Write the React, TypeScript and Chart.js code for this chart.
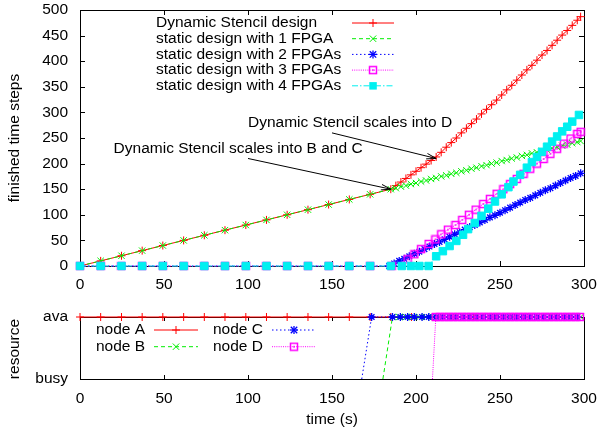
import React, { useEffect, useRef } from 'react';
import { Chart, registerables } from 'chart.js';

Chart.register(...registerables);

const FONT = '"Liberation Sans", Arial, Helvetica, sans-serif';
const FSIZE = 15.5;

// ---------- top panel data ----------
const seriesNames = [
  'Dynamic Stencil design',
  'static design with 1 FPGA',
  'static design with 2 FPGAs',
  'static design with 3 FPGAs',
  'static design with 4 FPGAs',
];

const dynTimes = [0, 12.3, 24.7, 37, 49.3, 61.7, 74, 86.3, 98.7, 111, 123.3, 135.7, 148, 160.3, 172.7, 185, 188, 191, 194, 197, 200, 203, 206, 209, 212, 215, 218, 221, 224, 227, 230, 233, 236, 239, 242, 245, 248, 251, 254, 257, 260, 263, 266, 269, 272, 275, 278, 281, 284, 287, 290, 293, 296, 298];
const dynSteps = [0, 10, 20, 30, 40, 50, 60, 70, 80, 90, 100, 110, 120, 130, 140, 150, 157, 164, 171, 178, 185, 192, 199, 206, 213, 222, 232, 241, 250, 260, 269, 278, 287, 297, 306, 315, 324, 334, 344, 353, 363, 373, 383, 392, 402, 412, 421, 431, 441, 451, 460, 470, 480, 487];

const fpga1Times = [0, 12.3, 24.7, 37, 49.3, 61.7, 74, 86.3, 98.7, 111, 123.3, 135.7, 148, 160.3, 172.7, 185, 188, 191, 194, 197, 200, 203, 206, 209, 212, 215, 218, 221, 224, 227, 230, 233, 236, 239, 242, 245, 248, 251, 254, 257, 260, 263, 266, 269, 272, 275, 278, 281, 284, 287, 290, 293, 296, 298];
const fpga1Steps = [0, 10, 20, 30, 40, 50, 60, 70, 80, 90, 100, 110, 120, 130, 140, 150, 152, 155, 157, 160, 162, 165, 167, 170, 172, 175, 177, 180, 182, 185, 187, 190, 192, 195, 197, 200, 202, 205, 207, 210, 212, 215, 217, 220, 222, 225, 227, 230, 232, 235, 237, 240, 242, 244];

const fpga2Times = [0, 12.3, 24.7, 37, 49.3, 61.7, 74, 86.3, 98.7, 111, 123.3, 135.7, 148, 160.3, 172.7, 184, 187, 190, 193, 196, 199, 202, 205, 208, 211, 214, 217, 220, 223, 226, 229, 232, 235, 238, 241, 244, 247, 250, 253, 256, 259, 262, 265, 268, 271, 274, 277, 280, 283, 286, 289, 292, 295, 298];
const fpga2Steps = [0, 0, 0, 0, 0, 0, 0, 0, 0, 0, 0, 0, 0, 0, 0, 0, 5, 10, 14, 19, 24, 28, 33, 38, 43, 47, 52, 57, 62, 66, 71, 76, 80, 85, 90, 95, 99, 104, 109, 114, 119, 124, 129, 133, 138, 143, 148, 152, 157, 162, 167, 172, 176, 181];

const fpga3Times = [0, 12.3, 24.7, 37, 49.3, 61.7, 74, 86.3, 98.7, 111, 123.3, 135.7, 148, 160.3, 172.7, 185.5, 195, 199, 203, 207.5, 211.5, 215, 219, 223.5, 227.5, 231.5, 235.5, 240, 244, 248, 252, 256, 260, 264, 268, 272, 276, 280, 284, 288, 292, 296, 298];
const fpga3Steps = [0, 0, 0, 0, 0, 0, 0, 0, 0, 0, 0, 0, 0, 0, 0, 0, 13, 23, 33, 43, 52, 62, 71, 80, 90, 100, 110, 121, 131, 141, 150, 160, 170, 180, 190, 200, 209, 219, 229, 239, 249, 258, 262];

const fpga4Times = [0, 12.3, 24.7, 37, 49.3, 61.7, 74, 86.3, 98.7, 111, 123.3, 135.7, 148, 160.3, 172.7, 185, 191.5, 197, 202, 207.5, 212, 216, 220, 224, 228, 231, 235, 239, 243, 247, 251, 255, 258, 262, 266, 269, 272, 275, 278, 281, 284, 287, 290, 293, 297];
const fpga4Steps = [0, 0, 0, 0, 0, 0, 0, 0, 0, 0, 0, 0, 0, 0, 0, 0, 0, 0, 0, 0, 19, 29, 39, 49, 61, 72, 84, 98, 112, 126, 140, 154, 165, 178, 192, 203, 213, 223, 233, 243, 253, 263, 272, 282, 295];

const annotationTexts = ['Dynamic Stencil scales into D', 'Dynamic Stencil scales into B and C'];
const annotationAt = [[100, 280], [20, 230]];
const arrowFrom = [[150, 260], [100, 210]];
const arrowTo = [[212, 210], [185, 150]];

// ---------- bottom panel data ----------
const nodeNames = ['node A', 'node B', 'node C', 'node D'];
const statusLabels = ['busy', 'ava'];

const nodeATimes = [0, 12.3, 24.7, 37, 49.3, 61.7, 74, 86.3, 98.7, 111, 123.3, 135.7, 148, 160.3, 172.7, 185, 197.3, 209.7, 222, 234.3, 246.7, 259, 271.3, 283.7, 296];
const nodeAStatus = ['ava', 'ava', 'ava', 'ava', 'ava', 'ava', 'ava', 'ava', 'ava', 'ava', 'ava', 'ava', 'ava', 'ava', 'ava', 'ava', 'ava', 'ava', 'ava', 'ava', 'ava', 'ava', 'ava', 'ava', 'ava'];

const nodeBTimes = [180.3, 186, 190, 194, 198, 202, 206, 210, 214, 218, 222, 226, 230, 234, 238, 242, 246, 250, 254, 258, 262, 266, 270, 274, 278, 282, 286, 290, 294, 298];
const nodeBStatus = ['busy', 'ava', 'ava', 'ava', 'ava', 'ava', 'ava', 'ava', 'ava', 'ava', 'ava', 'ava', 'ava', 'ava', 'ava', 'ava', 'ava', 'ava', 'ava', 'ava', 'ava', 'ava', 'ava', 'ava', 'ava', 'ava', 'ava', 'ava', 'ava', 'ava'];

const nodeCTimes = [167.7, 173.6, 186, 190.7, 195, 199, 203.6, 207.6, 212, 216, 220, 224, 228, 232, 236, 240, 244, 248, 252, 256, 260, 264, 268, 272, 276, 280, 284, 288, 292, 296];
const nodeCStatus = ['busy', 'ava', 'ava', 'ava', 'ava', 'ava', 'ava', 'ava', 'ava', 'ava', 'ava', 'ava', 'ava', 'ava', 'ava', 'ava', 'ava', 'ava', 'ava', 'ava', 'ava', 'ava', 'ava', 'ava', 'ava', 'ava', 'ava', 'ava', 'ava', 'ava'];

const nodeDTimes = [209.8, 211.8, 214.4, 217, 219.6, 222.2, 224.8, 227.4, 230, 232.6, 235.2, 237.8, 240.4, 243, 245.6, 248.2, 250.8, 253.4, 256, 258.6, 261.2, 263.8, 266.4, 269, 271.6, 274.2, 276.8, 279.4, 282, 284.6, 287.2, 289.8, 292.4, 295, 297.6];
const nodeDStatus = ['busy', 'ava', 'ava', 'ava', 'ava', 'ava', 'ava', 'ava', 'ava', 'ava', 'ava', 'ava', 'ava', 'ava', 'ava', 'ava', 'ava', 'ava', 'ava', 'ava', 'ava', 'ava', 'ava', 'ava', 'ava', 'ava', 'ava', 'ava', 'ava', 'ava', 'ava', 'ava', 'ava', 'ava', 'ava'];

// ---------- styles ----------
type MarkerKind = 'plus' | 'x' | 'star' | 'box' | 'fbox';
interface SStyle { color: string; dash: number[]; marker: MarkerKind; }

const styles: SStyle[] = [
  { color: '#ff0000', dash: [], marker: 'plus' },
  { color: '#00ee00', dash: [4, 3], marker: 'x' },
  { color: '#0000ff', dash: [1.5, 2.5], marker: 'star' },
  { color: '#ff00ff', dash: [1, 1.2], marker: 'box' },
  { color: '#00f0f0', dash: [6, 2, 1.5, 2], marker: 'fbox' },
];

function makeBoxImage(color: string): HTMLCanvasElement {
  const c = document.createElement('canvas');
  c.width = 10; c.height = 10;
  const g = c.getContext('2d')!;
  g.strokeStyle = color;
  g.lineWidth = 1.5;
  g.strokeRect(1.5, 1.5, 7, 7);
  g.fillStyle = color;
  g.fillRect(4.2, 4.2, 1.6, 1.6);
  return c;
}
const boxImg = makeBoxImage('#ff00ff');

function pointOpts(s: SStyle) {
  switch (s.marker) {
    case 'plus': return { pointStyle: 'cross', pointRadius: 4, pointBorderWidth: 1 };
    case 'x': return { pointStyle: 'crossRot', pointRadius: 4.5, pointBorderWidth: 1 };
    case 'star': return { pointStyle: 'star', pointRadius: 4, pointBorderWidth: 1.3 };
    case 'box': return { pointStyle: boxImg, pointRadius: 5, pointBorderWidth: 1 };
    case 'fbox': return { pointStyle: 'rect', pointRadius: 5.3, pointBorderWidth: 1 };
  }
}

function drawMarker(ctx: CanvasRenderingContext2D, s: SStyle, x: number, y: number) {
  ctx.save();
  ctx.setLineDash([]);
  ctx.strokeStyle = s.color;
  ctx.fillStyle = s.color;
  ctx.lineWidth = s.marker === 'star' ? 1.3 : 1;
  const seg = (a: number, b: number, c: number, d: number) => { ctx.beginPath(); ctx.moveTo(a, b); ctx.lineTo(c, d); ctx.stroke(); };
  if (s.marker === 'plus' || s.marker === 'star') { seg(x - 4, y, x + 4, y); seg(x, y - 4, x, y + 4); }
  if (s.marker === 'x' || s.marker === 'star') { const r = 3.2; seg(x - r, y - r, x + r, y + r); seg(x - r, y + r, x + r, y - r); }
  if (s.marker === 'box') ctx.drawImage(boxImg, x - 5, y - 5);
  if (s.marker === 'fbox') ctx.fillRect(x - 3.7, y - 3.7, 7.5, 7.5);
  ctx.restore();
}

function legendSample(ctx: CanvasRenderingContext2D, s: SStyle, x1: number, x2: number, y: number) {
  ctx.save();
  ctx.strokeStyle = s.color;
  ctx.lineWidth = 1;
  ctx.setLineDash(s.dash);
  ctx.beginPath(); ctx.moveTo(x1, y); ctx.lineTo(x2, y); ctx.stroke();
  ctx.restore();
  drawMarker(ctx, s, (x1 + x2) / 2, y);
}

function frameAndTicks(chart: any, tick: number) {
  const { ctx, chartArea } = chart;
  const { left, right, top, bottom } = chartArea;
  ctx.save();
  ctx.strokeStyle = '#000';
  ctx.lineWidth = 1;
  ctx.setLineDash([]);
  ctx.strokeRect(left + 0.5, top + 0.5, right - left, bottom - top);
  const xs = chart.scales.x, ys = chart.scales.y;
  ctx.beginPath();
  xs.ticks.forEach((t: any) => {
    const px = Math.round(xs.getPixelForValue(t.value)) + 0.5;
    if (px <= left + 1 || px >= right - 1) return;
    ctx.moveTo(px, bottom); ctx.lineTo(px, bottom - tick);
    ctx.moveTo(px, top); ctx.lineTo(px, top + tick);
  });
  ys.ticks.forEach((t: any) => {
    const py = Math.round(ys.getPixelForValue(t.value)) + 0.5;
    if (py <= top + 1 || py >= bottom - 1) return;
    ctx.moveTo(left, py); ctx.lineTo(left + tick, py);
    ctx.moveTo(right, py); ctx.lineTo(right - tick, py);
  });
  ctx.stroke();
  ctx.restore();
}

function rotatedText(ctx: CanvasRenderingContext2D, text: string, x: number, y: number) {
  ctx.save();
  ctx.translate(x, y);
  ctx.rotate(-Math.PI / 2);
  ctx.textAlign = 'center';
  ctx.textBaseline = 'middle';
  ctx.fillText(text, 0, 0);
  ctx.restore();
}

function arrow(ctx: CanvasRenderingContext2D, x1: number, y1: number, x2: number, y2: number) {
  ctx.beginPath(); ctx.moveTo(x1, y1); ctx.lineTo(x2, y2); ctx.stroke();
  const a = Math.atan2(y2 - y1, x2 - x1);
  const L = 10, w = 0.28;
  ctx.beginPath();
  ctx.moveTo(x2 - L * Math.cos(a - w), y2 - L * Math.sin(a - w));
  ctx.lineTo(x2, y2);
  ctx.lineTo(x2 - L * Math.cos(a + w), y2 - L * Math.sin(a + w));
  ctx.stroke();
}

const topPlugin = {
  id: 'topDecor',
  beforeDatasetsDraw(chart: any) { frameAndTicks(chart, 5); },
  afterDraw(chart: any) {
    const ctx: CanvasRenderingContext2D = chart.ctx;
    const xs = chart.scales.x, ys = chart.scales.y;
    ctx.save();
    ctx.fillStyle = '#000';
    ctx.strokeStyle = '#000';
    ctx.lineWidth = 1;
    ctx.font = `${FSIZE}px ${FONT}`;
    rotatedText(ctx, 'finished time steps', 15, 138);
    // annotations
    ctx.textAlign = 'left';
    ctx.textBaseline = 'middle';
    annotationTexts.forEach((t, i) => {
      ctx.fillText(t, xs.getPixelForValue(annotationAt[i][0]), ys.getPixelForValue(annotationAt[i][1]));
      arrow(ctx, xs.getPixelForValue(arrowFrom[i][0]), ys.getPixelForValue(arrowFrom[i][1]),
        xs.getPixelForValue(arrowTo[i][0]), ys.getPixelForValue(arrowTo[i][1]));
    });
    // legend
    seriesNames.forEach((name, i) => {
      const y = chart.chartArea.top + 13 + i * 15.7;
      ctx.fillStyle = '#000';
      ctx.textAlign = 'left';
      ctx.fillText(name, 156, y);
      legendSample(ctx, styles[i], 352, 394, y);
    });
    ctx.restore();
  },
};

const botPlugin = {
  id: 'botDecor',
  beforeDatasetsDraw(chart: any) { frameAndTicks(chart, 4); },
  afterDraw(chart: any) {
    const ctx: CanvasRenderingContext2D = chart.ctx;
    const { left, right, top } = chart.chartArea;
    ctx.save();
    ctx.fillStyle = '#000';
    ctx.font = `${FSIZE}px ${FONT}`;
    rotatedText(ctx, 'resource', 15, 49);
    ctx.textAlign = 'center';
    ctx.textBaseline = 'middle';
    ctx.fillText('time (s)', (left + right) / 2, 120);
    ctx.textAlign = 'left';
    nodeNames.forEach((name, i) => {
      const col = Math.floor(i / 2), row = i % 2;
      const y = top + 13 + row * 16.7;
      const tx = col === 0 ? 96 : 213;
      const sx = col === 0 ? 154 : 272;
      ctx.fillStyle = '#000';
      ctx.fillText(name, tx, y);
      legendSample(ctx, styles[i], sx, sx + 44, y);
    });
    ctx.restore();
  },
};

function makeDataset(label: string, times: number[], vals: number[], s: SStyle, order: number, hideFirst = false) {
  const p: any = pointOpts(s);
  const r = p.pointRadius;
  return {
    label,
    data: times.map((t, i) => ({ x: t, y: vals[i] })),
    borderColor: s.color,
    backgroundColor: s.color,
    pointBackgroundColor: s.color,
    pointBorderColor: s.color,
    borderWidth: 1,
    borderDash: s.dash,
    tension: 0,
    fill: false,
    clip: false,
    order,
    ...p,
    pointRadius: hideFirst ? (c: any) => (c.dataIndex === 0 ? 0 : r) : r,
    pointHoverRadius: r,
  };
}

const tickFont = { family: FONT, size: FSIZE };

function fitX(h: number) {
  return (s: any) => { s.height = h; s.paddingLeft = 0; s.paddingRight = 0; s.paddingTop = 0; s.paddingBottom = 0; };
}
function fitY(w: number) {
  return (s: any) => { s.width = w; s.paddingLeft = 0; s.paddingRight = 0; s.paddingTop = 0; s.paddingBottom = 0; };
}

function topConfig(): any {
  const times = [dynTimes, fpga1Times, fpga2Times, fpga3Times, fpga4Times];
  const vals = [dynSteps, fpga1Steps, fpga2Steps, fpga3Steps, fpga4Steps];
  return {
    type: 'line',
    data: {
      datasets: seriesNames.map((n, i) => makeDataset(n, times[i], vals[i], styles[i], 5 - i)),
    },
    options: {
      responsive: false,
      animation: false,
      devicePixelRatio: 1,
      layout: { padding: { left: 0, right: 18, top: 10, bottom: 0 } },
      plugins: { legend: { display: false }, tooltip: { enabled: false } },
      scales: {
        x: {
          type: 'linear', min: 0, max: 300,
          ticks: { stepSize: 50, font: tickFont, color: '#000', padding: 9, maxRotation: 0, autoSkip: false },
          grid: { display: false, drawTicks: false },
          border: { display: false },
          afterFit: fitX(34),
        },
        y: {
          type: 'linear', min: 0, max: 500,
          ticks: { stepSize: 50, font: tickFont, color: '#000', padding: 12, autoSkip: false },
          grid: { display: false, drawTicks: false },
          border: { display: false },
          afterFit: fitY(80),
        },
      },
    },
    plugins: [topPlugin],
  };
}

function botConfig(): any {
  const times = [nodeATimes, nodeBTimes, nodeCTimes, nodeDTimes];
  const stats = [nodeAStatus, nodeBStatus, nodeCStatus, nodeDStatus];
  return {
    type: 'line',
    data: {
      datasets: nodeNames.map((n, i) => makeDataset(n, times[i], stats[i].map((s) => statusLabels.indexOf(s)), styles[i], 4 - i, i > 0)),
    },
    options: {
      responsive: false,
      animation: false,
      devicePixelRatio: 1,
      layout: { padding: { left: 0, right: 18, top: 17, bottom: 0 } },
      plugins: { legend: { display: false }, tooltip: { enabled: false } },
      scales: {
        x: {
          type: 'linear', min: 0, max: 300,
          ticks: { stepSize: 50, font: tickFont, color: '#000', padding: 10, maxRotation: 0, autoSkip: false },
          grid: { display: false, drawTicks: false },
          border: { display: false },
          afterFit: fitX(53),
        },
        y: {
          type: 'linear', min: 0, max: 1,
          ticks: { stepSize: 1, font: tickFont, color: '#000', padding: 12, autoSkip: false, callback: (v: any) => statusLabels[v] ?? '' },
          grid: { display: false, drawTicks: false },
          border: { display: false },
          afterFit: fitY(80),
        },
      },
    },
    plugins: [botPlugin],
  };
}

export default function App() {
  const topRef = useRef<HTMLCanvasElement>(null);
  const botRef = useRef<HTMLCanvasElement>(null);
  useEffect(() => {
    const c1 = new Chart(topRef.current!, topConfig());
    const c2 = new Chart(botRef.current!, botConfig());
    return () => { c1.destroy(); c2.destroy(); };
  }, []);
  return (
    <div style={{ position: 'absolute', left: 0, top: 0, width: 602, height: 432, background: '#fff' }}>
      <canvas ref={topRef} width={602} height={300} style={{ position: 'absolute', left: 0, top: 0, width: 602, height: 300 }} />
      <canvas ref={botRef} width={602} height={132} style={{ position: 'absolute', left: 0, top: 300, width: 602, height: 132 }} />
    </div>
  );
}
